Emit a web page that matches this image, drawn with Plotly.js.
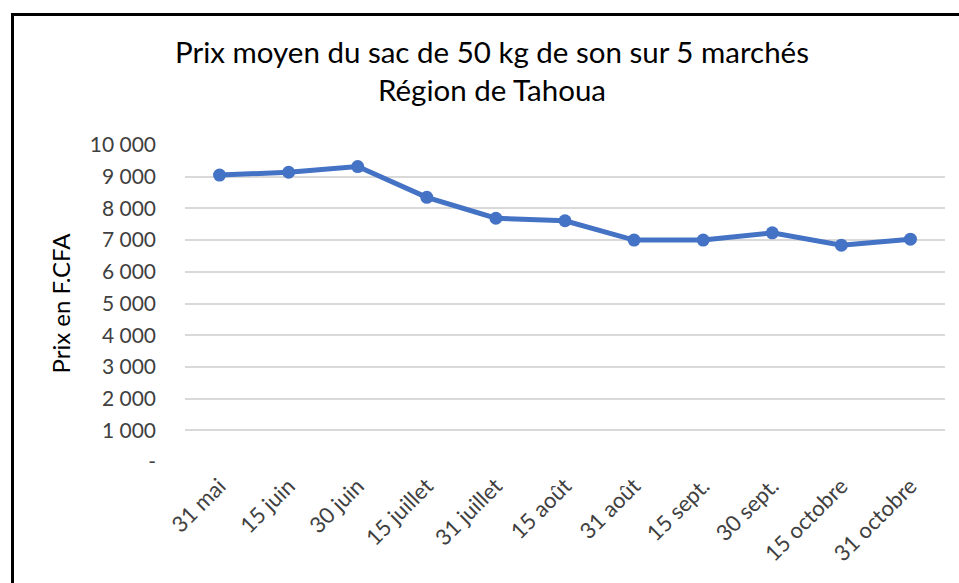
<!DOCTYPE html>
<html>
<head>
<meta charset="utf-8">
<script src="https://cdn.plot.ly/plotly-3.0.1.min.js"></script>
<style>
html,body{margin:0;padding:0;background:#fff;}
#chart{width:959px;height:583px;}
#frame{position:absolute;left:11px;top:13px;width:960px;height:600px;border-left:3px solid #000;border-top:3px solid #000;pointer-events:none;}
</style>
</head>
<body>
<div id="chart"></div>
<div id="frame"></div>
<script>
const categories = ["31 mai","15 juin","30 juin","15 juillet","31 juillet","15 août","31 août","15 sept.","30 sept.","15 octobre","31 octobre"];
const prix = [9050, 9140, 9320, 8350, 7690, 7610, 7000, 7000, 7230, 6840, 7030];
const yTickVals = [0,1000,2000,3000,4000,5000,6000,7000,8000,9000,10000];
const yTickText = ["-","1 000","2 000","3 000","4 000","5 000","6 000","7 000","8 000","9 000","10 000"];

const font = "Lato, 'Open Sans', sans-serif";
const trace = {
  x: categories, y: prix, type: "scatter", mode: "lines+markers",
  line: {color: "#4472C4", width: 5},
  marker: {color: "#4472C4", size: 13},
  hoverinfo: "x+y"
};
const layout = {
  width: 959, height: 583,
  margin: {l: 185, r: 14, t: 145, b: 121},
  paper_bgcolor: "#fff", plot_bgcolor: "#fff",
  showlegend: false,
  font: {family: font, color: "#404040", size: 21},
  title: {
    text: "Prix moyen du sac de 50 kg de son sur 5 marchés<br>Région de Tahoua",
    font: {family: font, size: 29.5, color: "#000"},
    x: 492/959, xref: "container", xanchor: "center",
    y: 1 - 63/583, yref: "container", yanchor: "middle"
  },
  xaxis: {
    type: "category", range: [-0.5, 10.5], tickangle: -45, showgrid: false, zeroline: false,
    showline: false, ticks: "", ticklabelstandoff: 6,
    tickfont: {family: font, size: 22, color: "#404040"}
  },
  yaxis: {
    range: [0, 10000], tickvals: yTickVals, ticktext: yTickText,
    showgrid: true, gridcolor: "#d9d9d9", gridwidth: 2, zeroline: false,
    showline: false, ticks: "", ticklabelstandoff: 28,
    tickfont: {family: font, size: 21, color: "#404040"},
    title: {text: "Prix en F.CFA", font: {family: font, size: 24, color: "#000"}, standoff: 12}
  }
};
Plotly.newPlot("chart", [trace], layout, {displayModeBar: false, staticPlot: true});
</script>
</body>
</html>
